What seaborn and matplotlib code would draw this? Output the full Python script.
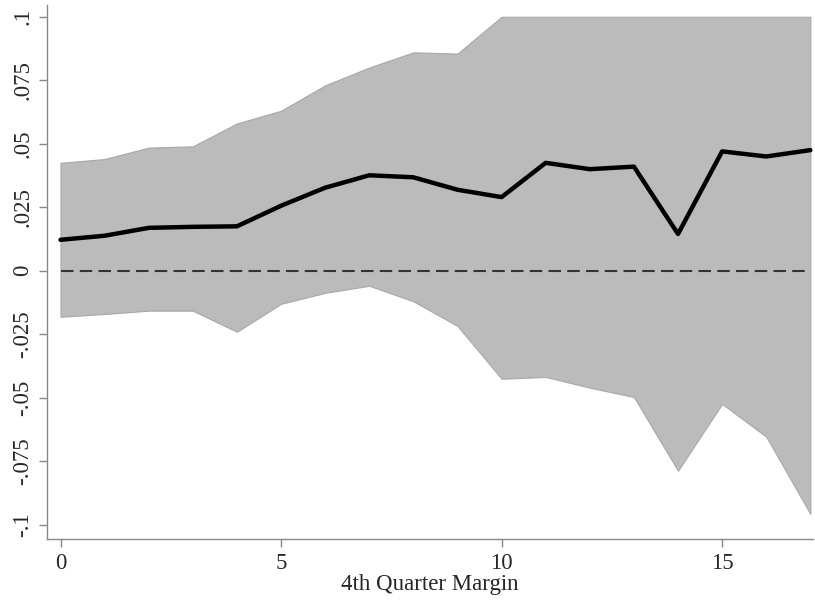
import numpy as np
import pandas as pd
import seaborn as sns
from matplotlib import pyplot as plt

# margin values and estimated effect with 95% band
margin = list(range(18))
estimate = [0.0122, 0.0138, 0.0169, 0.0173, 0.0175, 0.0256, 0.0327, 0.0376, 0.0368,
            0.0319, 0.0290, 0.0425, 0.0400, 0.0410, 0.0145, 0.0470, 0.0450, 0.0475]
upper = [0.0425, 0.0440, 0.0485, 0.0490, 0.0580, 0.0630, 0.0730, 0.0800, 0.0860,
         0.0855, 0.1000, 0.1000, 0.1000, 0.1000, 0.1000, 0.1000, 0.1000, 0.1000]
lower = [-0.0181, -0.0170, -0.0157, -0.0157, -0.0240, -0.0130, -0.0087, -0.0059, -0.0120,
         -0.0217, -0.0425, -0.0418, -0.0460, -0.0497, -0.0787, -0.0524, -0.0653, -0.0957]

yticks = [-0.1, -0.075, -0.05, -0.025, 0, 0.025, 0.05, 0.075, 0.1]
ytick_labels = ['-.1', '-.075', '-.05', '-.025', '0', '.025', '.05', '.075', '.1']
xticks = [0, 5, 10, 15]

df = pd.DataFrame({'margin': margin, 'estimate': estimate, 'upper': upper, 'lower': lower})

sns.set_style('ticks')
plt.rcParams['font.family'] = ['Liberation Serif', 'DejaVu Serif']

fig = plt.figure(figsize=(8.15, 6.02), dpi=100)
ax = fig.add_axes([0.058, 0.105, 0.939, 0.887])

ax.fill_between(df['margin'], df['lower'], df['upper'], color='#bbbbbb',
                edgecolor='#a8a8a8', linewidth=0.8, zorder=1)
ax.hlines(0, margin[0], margin[-1], color='#333333', linestyle=(0, (6, 3)),
          linewidth=1.5, zorder=2)
sns.lineplot(data=df, x='margin', y='estimate', color='black', linewidth=3.2, ax=ax, zorder=3)

ax.set_xlim(-0.3, 17.05)
ax.set_ylim(-0.1055, 0.1047)
ax.set_xticks(xticks)
ax.set_xticklabels([str(t) for t in xticks], fontsize=16.5)
ax.set_yticks(yticks)
ax.set_yticklabels(ytick_labels, fontsize=16.5, rotation=90, va='center')
ax.set_xlabel('4th Quarter Margin', fontsize=16.5, labelpad=0)
ax.set_ylabel('')

sns.despine(ax=ax)
for side in ['left', 'bottom']:
    ax.spines[side].set_color('#888888')
    ax.spines[side].set_linewidth(1.0)
ax.tick_params(axis='both', color='#888888', length=6, width=1.0, pad=4)

fig.savefig('out.png', dpi=100)
